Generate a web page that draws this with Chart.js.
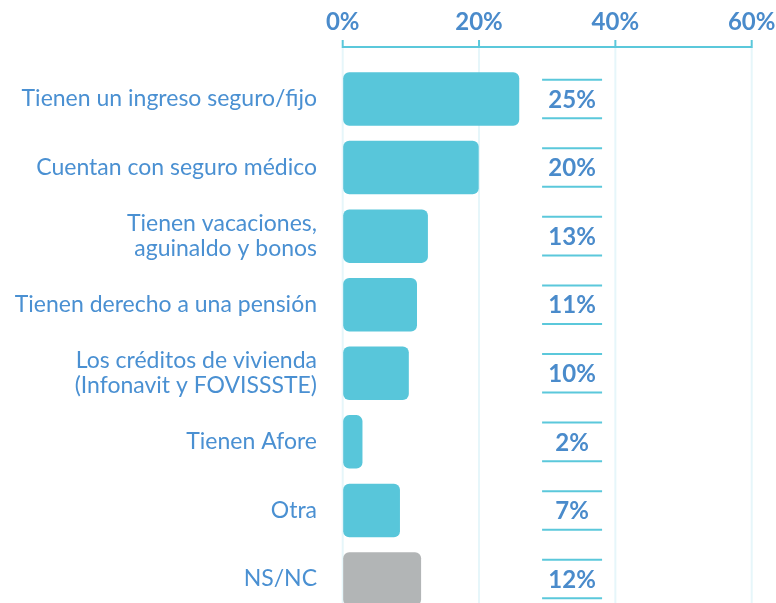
<!DOCTYPE html>
<html>
<head>
<meta charset="utf-8">
<script src="https://cdn.jsdelivr.net/npm/chart.js@4.4.1/dist/chart.umd.min.js"></script>
<style>
  html, body { margin: 0; padding: 0; background: #ffffff; overflow: hidden; }
  #c { display: block; width: 776px; height: 614px; }
</style>
</head>
<body>
<canvas id="c" width="776" height="614"></canvas>
<script>
const categories = [
  "Tienen un ingreso seguro/fijo",
  "Cuentan con seguro médico",
  ["Tienen vacaciones,", "aguinaldo y bonos"],
  "Tienen derecho a una pensión",
  ["Los créditos de vivienda", "(Infonavit y FOVISSSTE)"],
  "Tienen Afore",
  "Otra",
  "NS/NC"
];
const barValues = [25.9, 19.95, 12.5, 10.9, 9.7, 2.9, 8.4, 11.5];
const valueLabels = ["25%", "20%", "13%", "11%", "10%", "2%", "7%", "12%"];
const tickValues = [0, 20, 40, 60];
const barColors = ["#58c6da", "#58c6da", "#58c6da", "#58c6da", "#58c6da", "#58c6da", "#58c6da", "#b2b5b6"];

const TEXT = "#4a90d2";
const BOLD = "#4a8bcb";
const TEAL = "#5bc8db";
const GRID = "#e6f6fa";
const FONT = "Lato, 'Open Sans', sans-serif";

const overlay = {
  id: "overlay",
  beforeDatasetsDraw(chart) {
    const ctx = chart.ctx, x = chart.scales.x, area = chart.chartArea;
    const axisY = 47;
    ctx.save();
    ctx.strokeStyle = GRID;
    ctx.lineWidth = 2;
    tickValues.forEach(v => {
      const px = x.getPixelForValue(v);
      ctx.beginPath(); ctx.moveTo(px, axisY); ctx.lineTo(px, area.bottom + 10); ctx.stroke();
    });
    ctx.strokeStyle = TEAL;
    ctx.lineWidth = 2;
    ctx.beginPath();
    ctx.moveTo(x.getPixelForValue(0), axisY);
    ctx.lineTo(x.getPixelForValue(60), axisY);
    ctx.stroke();
    tickValues.forEach(v => {
      const px = x.getPixelForValue(v);
      ctx.beginPath(); ctx.moveTo(px, axisY - 7); ctx.lineTo(px, axisY + 1); ctx.stroke();
    });
    ctx.restore();
  },
  afterDatasetsDraw(chart) {
    const ctx = chart.ctx, x = chart.scales.x, y = chart.scales.y;
    const x0 = x.getPixelForValue(29.25), x1 = x.getPixelForValue(38.05);
    ctx.save();
    valueLabels.forEach((lab, i) => {
      const cy = y.getPixelForValue(i);
      ctx.strokeStyle = TEAL;
      ctx.lineWidth = 2;
      ctx.beginPath(); ctx.moveTo(x0, cy - 19.3); ctx.lineTo(x1, cy - 19.3); ctx.stroke();
      ctx.beginPath(); ctx.moveTo(x0, cy + 19.3); ctx.lineTo(x1, cy + 19.3); ctx.stroke();
      ctx.fillStyle = BOLD;
      ctx.font = "bold 24px " + FONT;
      ctx.textAlign = "center";
      ctx.textBaseline = "middle";
      ctx.fillText(lab, (x0 + x1) / 2, cy + 1);
    });
    ctx.restore();
  }
};

new Chart(document.getElementById("c"), {
  type: "bar",
  data: {
    labels: categories,
    datasets: [{
      data: barValues,
      backgroundColor: barColors,
      borderRadius: 6,
      borderSkipped: false,
      barPercentage: 0.78,
      categoryPercentage: 1
    }]
  },
  options: {
    indexAxis: "y",
    responsive: false,
    animation: false,
    layout: { padding: { left: 0, right: 24.3, top: 0, bottom: 0.7 } },
    plugins: { legend: { display: false }, tooltip: { enabled: false } },
    scales: {
      x: {
        position: "top",
        min: 0, max: 60,
        afterBuildTicks(scale) { scale.ticks = tickValues.map(v => ({ value: v })); },
        afterFit(scale) { scale.height = 64.7; scale.paddingLeft = 0; scale.paddingRight = 0; },
        border: { display: false },
        grid: { drawOnChartArea: false, drawTicks: true, tickLength: 18, tickColor: "rgba(0,0,0,0)" },
        ticks: {
          padding: 10,
          color: BOLD,
          font: { family: FONT, size: 24, weight: "bold" },
          callback: v => v + "%"
        }
      },
      y: {
        afterFit(scale) { scale.width = 342.7; scale.paddingTop = 0; scale.paddingBottom = 0; },
        border: { display: false },
        grid: { display: false, drawTicks: false },
        ticks: {
          padding: 25.7,
          color: TEXT,
          font: { family: FONT, size: 23, lineHeight: 1.09 }
        }
      }
    }
  },
  plugins: [overlay]
});
</script>
</body>
</html>
